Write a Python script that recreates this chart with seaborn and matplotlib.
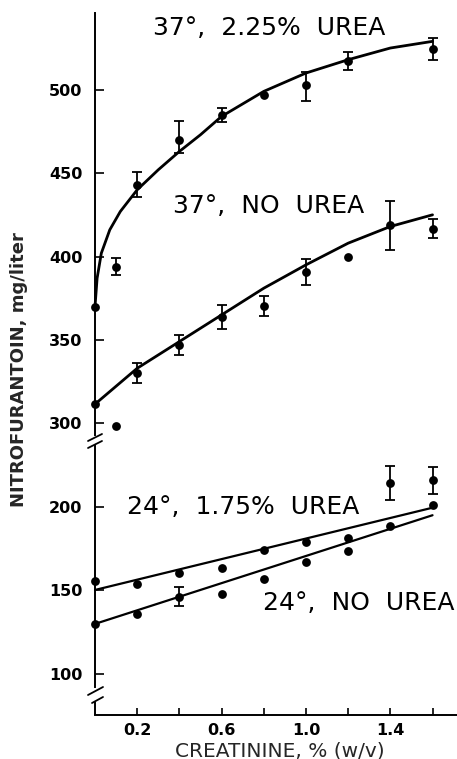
"""
Nitrofurantoin solubility vs creatinine concentration (broken y-axis).
"""

import matplotlib
matplotlib.use("Agg")

import matplotlib.pyplot as plt
import pandas as pd
import seaborn as sns
from matplotlib.lines import Line2D

# ── data ─────────────────────────────────────────────────────────────────────
# 37°, 2.25% urea — measured points
x_37u = [0.0, 0.1, 0.2, 0.4, 0.6, 0.8, 1.0, 1.2, 1.6]
y_37u = [370, 394, 443, 470, 485, 497, 503, 517, 524.5]
lo_37u = [0, 5, 7.5, 8, 4.3, 0, 10, 5.4, 6.8]
hi_37u = [0, 5, 7.5, 11, 4.3, 0, 7.4, 5.4, 6.8]
# 37°, 2.25% urea — drawn curve
cx_37u = [0.0, 0.01, 0.03, 0.07, 0.12, 0.2, 0.3, 0.4, 0.5, 0.6, 0.8, 1.0, 1.2, 1.4, 1.6]
cy_37u = [370, 387, 402, 416, 427, 440, 452, 463, 473, 484, 499, 510, 518, 525, 529]

# 37°, no urea
x_37n = [0.0, 0.1, 0.2, 0.4, 0.6, 0.8, 1.0, 1.2, 1.4, 1.6]
y_37n = [311.5, 298.4, 330, 346.7, 363.7, 370.6, 390.6, 400, 418.8, 416.8]
err_37n = [0, 0, 6, 6, 7, 6, 7.8, 0, 14.7, 5.5]
cx_37n = [0.0, 0.2, 0.4, 0.6, 0.8, 1.0, 1.2, 1.4, 1.6]
cy_37n = [311.5, 333, 349, 365, 381, 395, 408, 418, 425]

# 24°, 1.75% urea
x_24u = [0.0, 0.2, 0.4, 0.6, 0.8, 1.0, 1.2, 1.4, 1.6]
y_24u = [155.5, 153.7, 160.3, 163.3, 174.3, 179.2, 181.3, 214.2, 215.8]
err_24u = [0, 0, 0, 0, 0, 0, 0, 10, 8]
cx_24u = [0.0, 1.6]
cy_24u = [150.3, 199.5]

# 24°, no urea
x_24n = [0.0, 0.2, 0.4, 0.6, 0.8, 1.0, 1.2, 1.4, 1.6]
y_24n = [130, 135.9, 146.3, 147.7, 156.9, 167.3, 173.7, 188.6, 201.2]
err_24n = [0, 0, 5.5, 0, 0, 0, 0, 0, 0]
cx_24n = [0.0, 1.6]
cy_24n = [130, 195]

top_ticks = [300, 350, 400, 450, 500]
bot_ticks = [100, 150, 200]
x_ticks = [0.2, 0.4, 0.6, 0.8, 1.0, 1.2, 1.4, 1.6]
x_ticklabels = ["0.2", "", "0.6", "", "1.0", "", "1.4", ""]

# ── figure layout (pixel geometry of the 457x759 reference) ─────────────────
W_PX, H_PX = 457, 759
sns.set_theme(style="ticks")
plt.rcParams["font.family"] = ["DejaVu Sans"]

fig = plt.figure(figsize=(W_PX / 100, H_PX / 100), dpi=100)
left = 95 / W_PX
ax_top = fig.add_axes([left, 1 - 440 / H_PX, 1 - left, 427 / H_PX])
ax_bot = fig.add_axes([left, 1 - 715 / H_PX, 1 - left, 275 / H_PX])

for ax in (ax_top, ax_bot):
    ax.set_facecolor("white")
    ax.patch.set_alpha(0)
    ax.set_xlim(0, 1.716)
    for s in ("top", "right"):
        ax.spines[s].set_visible(False)
    for s in ("left", "bottom"):
        ax.spines[s].set_linewidth(1.4)
        ax.spines[s].set_color("black")
    ax.tick_params(axis="y", direction="in", length=6.5, width=1.2, pad=9,
                   labelsize=11.5, colors="black")

ax_top.set_ylim(290, 546)
ax_bot.set_ylim(75.5, 240)
ax_top.spines["bottom"].set_visible(False)
ax_top.tick_params(axis="x", bottom=False, labelbottom=False)
ax_bot.tick_params(axis="x", direction="in", length=5, width=1.2, pad=6,
                   labelsize=11.5, colors="black")

# gaps in the y-axis line at the two breaks
ax_top.spines["left"].set_bounds(293, 546)
ax_bot.spines["left"].set_bounds(92.4, 236.5)
ax_bot.plot([0, 0], [75.5, 83.4], color="black", linewidth=1.4,
            clip_on=False, solid_capstyle="butt")

ax_top.set_yticks(top_ticks)
ax_bot.set_yticks(bot_ticks)
ax_bot.set_xticks(x_ticks)
ax_bot.set_xticklabels(x_ticklabels)
for lab in ax_top.get_yticklabels() + ax_bot.get_yticklabels() + ax_bot.get_xticklabels():
    lab.set_fontweight("bold")


def draw_series(ax, x, y, lo, hi, cx, cy, lw):
    pts = pd.DataFrame({"x": x, "y": y, "lo": lo, "hi": hi})
    sns.lineplot(x=cx, y=cy, ax=ax, color="black", linewidth=lw,
                 errorbar=None, sort=False, clip_on=False)
    bars = pts[(pts["lo"] > 0) | (pts["hi"] > 0)]
    ax.errorbar(bars["x"], bars["y"], yerr=[bars["lo"], bars["hi"]], fmt="none",
                ecolor="black", elinewidth=1.3, capsize=3.5, capthick=1.3,
                zorder=3)
    sns.scatterplot(data=pts, x="x", y="y", ax=ax, color="black", s=40,
                    linewidth=0, zorder=4, clip_on=False)


draw_series(ax_top, x_37u, y_37u, lo_37u, hi_37u, cx_37u, cy_37u, 2.0)
draw_series(ax_top, x_37n, y_37n, err_37n, err_37n, cx_37n, cy_37n, 2.0)
draw_series(ax_bot, x_24u, y_24u, err_24u, err_24u, cx_24u, cy_24u, 1.6)
draw_series(ax_bot, x_24n, y_24n, err_24n, err_24n, cx_24n, cy_24n, 1.6)

for ax in (ax_top, ax_bot):
    ax.set_xlabel("")
    ax.set_ylabel("")

# curve labels
lab_kw = dict(fontsize=18, color="black", ha="left", va="center")
ax_top.text(0.275, 537, "37°,  2.25%  UREA", **lab_kw)
ax_top.text(0.37, 430, "37°,  NO  UREA", **lab_kw)
ax_bot.text(0.152, 200, "24°,  1.75%  UREA", **lab_kw)
ax_bot.text(0.796, 142.5, "24°,  NO  UREA", **lab_kw)

# axis titles
fig.text(19 / W_PX, 1 - 370 / H_PX, "NITROFURANTOIN, mg/liter", rotation=90,
         ha="center", va="center", fontsize=13, fontweight="bold")
fig.text(280 / W_PX, 1 - 751 / H_PX, "CREATININE, % (w/v)",
         ha="center", va="center", fontsize=14.5)

# axis break marks ("//") on the y-axis
breaks = [((88, 441), (102, 434)), ((88, 448), (102, 441)),
          ((88, 695), (103, 687)), ((92, 703), (103, 697))]
for (x0, y0), (x1, y1) in breaks:
    fig.add_artist(Line2D([x0 / W_PX, x1 / W_PX], [1 - y0 / H_PX, 1 - y1 / H_PX],
                          color="black", linewidth=1.3))

fig.savefig("out.png", dpi=100, facecolor="white")
